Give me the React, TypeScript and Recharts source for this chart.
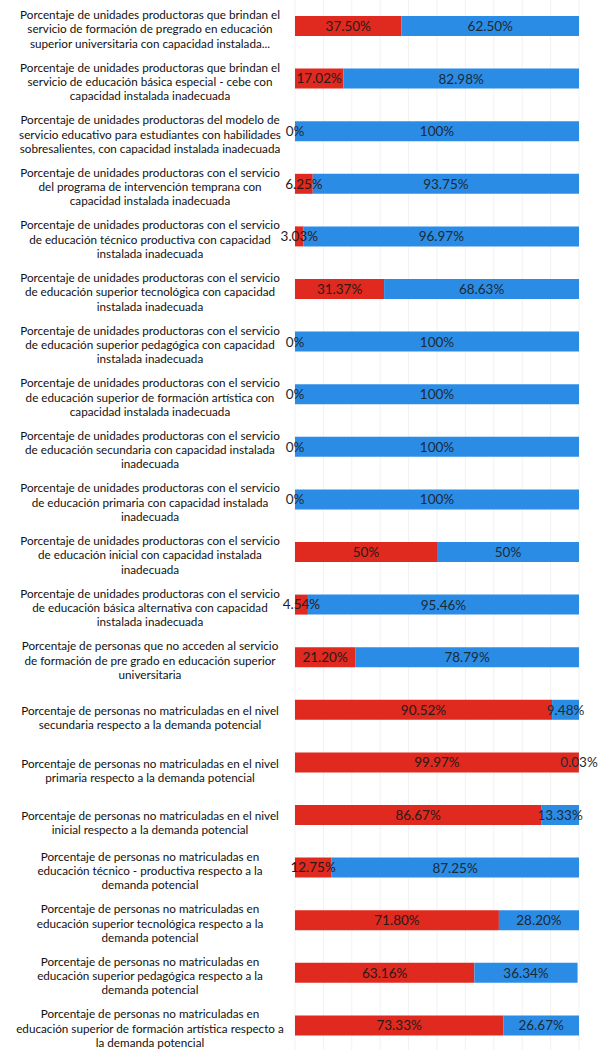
import React from 'react';
import { BarChart, Bar, XAxis, YAxis, CartesianGrid, LabelList } from 'recharts';

const categories: string[] = [
  'Porcentaje de unidades productoras que brindan el\nservicio de formación de pregrado en educación\nsuperior universitaria con capacidad instalada...',
  'Porcentaje de unidades productoras que brindan el\nservicio de educación básica especial - cebe con\ncapacidad instalada inadecuada',
  'Porcentaje de unidades productoras del modelo de\nservicio educativo para estudiantes con habilidades\nsobresalientes, con capacidad instalada inadecuada',
  'Porcentaje de unidades productoras con el servicio\ndel programa de intervención temprana con\ncapacidad instalada inadecuada',
  'Porcentaje de unidades productoras con el servicio\nde educación técnico productiva con capacidad\ninstalada inadecuada',
  'Porcentaje de unidades productoras con el servicio\nde educación superior tecnológica con capacidad\ninstalada inadecuada',
  'Porcentaje de unidades productoras con el servicio\nde educación superior pedagógica con capacidad\ninstalada inadecuada',
  'Porcentaje de unidades productoras con el servicio\nde educación superior de formación artística con\ncapacidad instalada inadecuada',
  'Porcentaje de unidades productoras con el servicio\nde educación secundaria con capacidad instalada\ninadecuada',
  'Porcentaje de unidades productoras con el servicio\nde educación primaria con capacidad instalada\ninadecuada',
  'Porcentaje de unidades productoras con el servicio\nde educación inicial con capacidad instalada\ninadecuada',
  'Porcentaje de unidades productoras con el servicio\nde educación básica alternativa con capacidad\ninstalada inadecuada',
  'Porcentaje de personas que no acceden al servicio\nde formación de pre grado en educación superior\nuniversitaria',
  'Porcentaje de personas no matriculadas en el nivel\nsecundaria respecto a la demanda potencial',
  'Porcentaje de personas no matriculadas en el nivel\nprimaria respecto a la demanda potencial',
  'Porcentaje de personas no matriculadas en el nivel\ninicial respecto a la demanda potencial',
  'Porcentaje de personas no matriculadas en\neducación técnico - productiva respecto a la\ndemanda potencial',
  'Porcentaje de personas no matriculadas en\neducación superior tecnológica respecto a la\ndemanda potencial',
  'Porcentaje de personas no matriculadas en\neducación superior pedagógica respecto a la\ndemanda potencial',
  'Porcentaje de personas no matriculadas en\neducación superior de formación artística respecto a\nla demanda potencial',
];

const redValues: number[] = [37.5, 17.02, 0, 6.25, 3.03, 31.37, 0, 0, 0, 0, 50, 4.54, 21.2, 90.52, 99.97, 86.67, 12.75, 71.8, 63.16, 73.33];
const blueValues: number[] = [62.5, 82.98, 100, 93.75, 96.97, 68.63, 100, 100, 100, 100, 50, 95.46, 78.79, 9.48, 0.03, 13.33, 87.25, 28.2, 36.34, 26.67];
const redLabels: string[] = ['37.50%', '17.02%', '0%', '6.25%', '3.03%', '31.37%', '0%', '0%', '0%', '0%', '50%', '4.54%', '21.20%', '90.52%', '99.97%', '86.67%', '12.75%', '71.80%', '63.16%', '73.33%'];
const blueLabels: string[] = ['62.50%', '82.98%', '100%', '93.75%', '96.97%', '68.63%', '100%', '100%', '100%', '100%', '50%', '95.46%', '78.79%', '9.48%', '0.03%', '13.33%', '87.25%', '28.20%', '36.34%', '26.67%'];
const xTicks: number[] = [0, 10, 20, 30, 40, 50, 60, 70, 80, 90, 100];

const data = categories.map((c, i) => ({
  name: c,
  red: redValues[i],
  blue: blueValues[i],
  redLabel: redLabels[i],
  blueLabel: blueLabels[i],
}));

const FONT = 'Lato, "Open Sans", sans-serif';
const LABEL_SIZE = 13.5;

const CategoryTick = (props: any) => {
  const { y, payload } = props;
  const lines: string[] = String(payload.value).split('\n');
  const lh = 14.3;
  const extra = lines.length === 2 ? 7 : 2;
  const startY = y + extra - ((lines.length - 1) * lh) / 2;
  return (
    <text x={150} y={startY} textAnchor="middle" fontFamily={FONT} fontSize={11.7} fill="#111" dominantBaseline="central">
      {lines.map((l, i) => (
        <tspan key={i} x={150} y={startY + i * lh}>
          {l}
        </tspan>
      ))}
    </text>
  );
};

const BlueLabel = (props: any) => {
  const { x, y, width, height, index } = props;
  const cy = y + height / 2;
  const d = data[index];
  return (
    <g>
      {d.red === 0 ? (
        <text x={x} y={cy} textAnchor="middle" dominantBaseline="central" fontFamily={FONT} fontSize={LABEL_SIZE} fill="#1c2a33">
          {d.redLabel}
        </text>
      ) : null}
      <text x={x + width / 2} y={cy} textAnchor="middle" dominantBaseline="central" fontFamily={FONT} fontSize={LABEL_SIZE} fill="#1c2a33">
        {d.blueLabel}
      </text>
    </g>
  );
};

export default function App() {
  return (
    <div style={{ position: 'absolute', left: 0, top: 0, background: '#fff' }}>
      <BarChart
        width={599}
        height={1052}
        data={data}
        layout="vertical"
        margin={{ top: 0, right: 20, bottom: 0, left: 0 }}
        barSize={20}
      >
        <CartesianGrid horizontal={false} vertical={true} stroke="#f1f1f1" />
        <XAxis type="number" domain={[0, 100]} ticks={xTicks} hide />
        <YAxis
          type="category"
          dataKey="name"
          width={295}
          axisLine={false}
          tickLine={false}
          interval={0}
          tick={<CategoryTick />}
        />
        <Bar dataKey="red" stackId="a" fill="#E0291F" isAnimationActive={false}>
          <LabelList dataKey="redLabel" position="center" fill="#2a1a18" fontSize={LABEL_SIZE} fontFamily={FONT} />
        </Bar>
        <Bar dataKey="blue" stackId="a" fill="#2B8CE6" isAnimationActive={false} label={<BlueLabel />} />
      </BarChart>
    </div>
  );
}
